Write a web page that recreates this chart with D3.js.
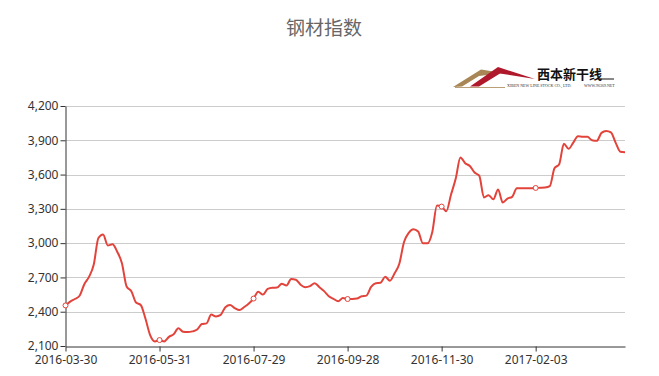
<!DOCTYPE html>
<html>
<head>
<meta charset="utf-8">
<script src="https://cdn.jsdelivr.net/npm/d3@7"></script>
<style>
  body { margin: 0; background: #fff; }
  svg { display: block; }
</style>
</head>
<body>
<div id="chart"></div>
<script>
// 钢材指数 - category axis, one point every ~2 trading days

const tickLabels = ["2016-03-30", "2016-05-31", "2016-07-29", "2016-09-28", "2016-11-30", "2017-02-03"];
const labelEvery = 20;

const values = [
  2455, 2488, 2511, 2540, 2640, 2705, 2810, 3045, 3075, 2980,
  2990, 2925, 2825, 2620, 2580, 2480, 2459, 2340, 2195, 2140,
  2152, 2140, 2180, 2202, 2255, 2225, 2222, 2228, 2244, 2292,
  2298, 2375, 2358, 2372, 2440, 2459, 2432, 2415, 2441, 2472,
  2515, 2575, 2550, 2600, 2610, 2611, 2645, 2630, 2686, 2680,
  2636, 2615, 2624, 2650, 2615, 2580, 2535, 2513, 2492, 2520,
  2511, 2511, 2515, 2536, 2541, 2618, 2650, 2653, 2705, 2672,
  2736, 2820, 3010, 3090, 3122, 3102, 3000, 2998, 3095, 3330,
  3320, 3280, 3425, 3565, 3750, 3700, 3675, 3618, 3590, 3400,
  3420, 3383, 3470, 3355, 3390, 3405, 3480, 3480, 3480, 3480,
  3483, 3484, 3486, 3498, 3655, 3690, 3870, 3825, 3880, 3935,
  3931, 3930, 3900, 3895, 3965, 3982, 3970, 3880, 3800, 3795
];

const yTicks = [2100, 2400, 2700, 3000, 3300, 3600, 3900, 4200];

const width = 659
const height = 376
const plotLeft = 65.5, plotRight = 625, plotTop = 106, plotBottom = 346;

const svg = d3.select("#chart")
  .append("svg")
  .attr("width", width)
  .attr("height", height)

// title
svg.append("text")
  .attr("x", 324)
  .attr("y", 35)
  .attr("text-anchor", "middle")
  .attr("font-family", "'Noto Sans CJK SC', sans-serif")
  .attr("font-size", "19px")
  .attr("fill", "#666")
  .text("钢材指数");

// logo (西本新干线)
var logo = svg.append("g");
logo.append("path")
  .attr("d", "M453,87 L481,69.5 L503,73 L479,76 L462,86.5 Z")
  .attr("fill", "#a88655");
logo.append("path")
  .attr("d", "M470,86.5 L498,67 L535,79 L500,73.5 L479,86.5 Z")
  .attr("fill", "#b0182b");
logo.append("line")
  .attr("x1", 455).attr("x2", 505).attr("y1", 87.5).attr("y2", 87.5)
  .attr("stroke", "#a88655").attr("stroke-width", 0.8);
logo.append("text")
  .attr("x", 537)
  .attr("y", 79)
  .attr("font-family", "'Noto Sans CJK SC', sans-serif")
  .attr("font-weight", "bold")
  .attr("font-size", "13px")
  .attr("fill", "#111")
  .text("西本新干线");
logo.append("line")
  .attr("x1", 599).attr("x2", 614).attr("y1", 79).attr("y2", 79)
  .attr("stroke", "#111").attr("stroke-width", 1);
logo.append("text")
  .attr("x", 507).attr("y", 86.5)
  .attr("font-family", "'Liberation Serif', serif")
  .attr("font-size", "4px")
  .attr("fill", "#333")
  .text("XIBEN NEW LINE STOCK CO., LTD.");
logo.append("text")
  .attr("x", 584).attr("y", 86.5)
  .attr("font-family", "'Liberation Serif', serif")
  .attr("font-size", "4px")
  .attr("fill", "#333")
  .text("WWW.96369.NET");

var x = d3.scaleLinear()
  .domain([0, values.length - 1])
  .range([plotLeft, plotRight]);

var y = d3.scaleLinear()
  .domain([2100, 4200])
  .range([plotBottom, plotTop]);

// grid
svg.append("g")
  .selectAll("line")
  .data(yTicks.slice(1))
  .enter()
  .append("line")
  .attr("x1", plotLeft)
  .attr("x2", plotRight)
  .attr("y1", d => Math.round(y(d)) + 0.5)
  .attr("y2", d => Math.round(y(d)) + 0.5)
  .attr("stroke", "#ccc")
  .attr("stroke-width", 1);

// y axis
var yAxis = svg.append("g")
  .attr("transform", "translate(" + plotLeft + ",0)")
  .call(d3.axisLeft(y).tickValues(yTicks).tickFormat(d3.format(",")).tickSize(5).tickSizeOuter(0));

// x axis
var tickIdx = tickLabels.map((d, i) => i * labelEvery);
var xAxis = svg.append("g")
  .attr("transform", "translate(0," + (plotBottom + 0.5) + ")")
  .call(d3.axisBottom(x).tickValues(tickIdx).tickFormat((d, i) => tickLabels[i]).tickSize(5).tickSizeOuter(0));

[yAxis, xAxis].forEach(function (ax) {
  ax.select(".domain").attr("stroke", "#333");
  ax.selectAll(".tick line").attr("stroke", "#333");
  ax.selectAll(".tick text")
    .attr("fill", "#333")
    .attr("font-family", "'Noto Sans', sans-serif")
    .attr("font-size", "12px");
});
yAxis.selectAll(".tick text").attr("x", -7);
xAxis.selectAll(".tick text").attr("y", 9);

// line
var line = d3.line()
  .x((d, i) => x(i))
  .y(d => y(d))
  .curve(d3.curveMonotoneX);

svg.append("path")
  .datum(values)
  .attr("fill", "none")
  .attr("stroke", "#e2433b")
  .attr("stroke-width", 2)
  .attr("stroke-linejoin", "round")
  .attr("d", line);

// symbols at labelled points
svg.append("g")
  .selectAll("circle")
  .data(tickIdx)
  .enter()
  .append("circle")
  .attr("cx", d => x(d))
  .attr("cy", d => y(values[d]))
  .attr("r", 2.5)
  .attr("fill", "#fff")
  .attr("stroke", "#e2433b")
  .attr("stroke-width", 1);
</script>
</body>
</html>
